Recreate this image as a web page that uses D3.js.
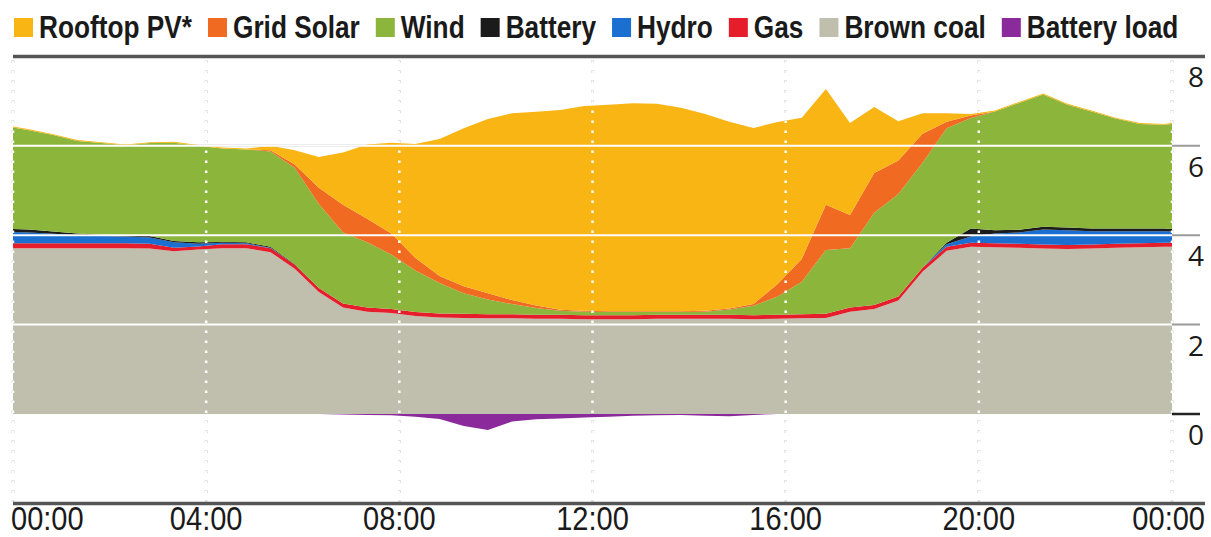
<!DOCTYPE html>
<html>
<head>
<meta charset="utf-8">
<script src="https://cdn.jsdelivr.net/npm/d3@7"></script>
<style>
  html, body { margin: 0; padding: 0; background: #fff; }
  svg { display: block; }
  .legend-text { font-family: "Liberation Sans", Arial, sans-serif; font-weight: bold; font-size: 32px; fill: #1a1a1a; }
  .x-label { font-family: "Liberation Sans", Arial, sans-serif; font-size: 33px; fill: #1a1a1a; }
  .y-label { font-family: "Open Sans", "Liberation Sans", sans-serif; font-size: 28px; fill: #1a1a1a; }
</style>
</head>
<body>
<div id="chart"></div>
<script>
// Electricity generation by source over one day (GW), stacked

const times = ["00:00","00:20","00:50","01:20","01:50","02:20","02:50","03:20","03:50","04:20",
  "04:50","05:20","05:50","06:20","06:50","07:20","07:50","08:20","08:50","09:20",
  "09:50","10:20","10:50","11:20","11:50","12:20","12:50","13:20","13:50","14:20",
  "14:50","15:20","15:50","16:20","16:50","17:20","17:50","18:20","18:50","19:20",
  "19:50","20:20","20:50","21:20","21:50","22:20","22:50","23:20","23:50","24:00"];

const brownCoal = [3.71,3.71,3.71,3.71,3.71,3.71,3.70,3.64,3.68,3.71,
  3.71,3.62,3.25,2.73,2.38,2.29,2.26,2.19,2.16,2.15,
  2.14,2.14,2.13,2.13,2.12,2.12,2.12,2.13,2.13,2.13,
  2.13,2.12,2.13,2.14,2.15,2.29,2.35,2.54,3.18,3.65,
  3.74,3.73,3.72,3.70,3.69,3.70,3.72,3.73,3.74,3.74];

const gas = [0.11,0.11,0.11,0.11,0.11,0.11,0.11,0.08,0.07,0.09,
  0.09,0.09,0.09,0.09,0.09,0.09,0.09,0.09,0.09,0.09,
  0.09,0.09,0.09,0.09,0.09,0.09,0.09,0.09,0.09,0.09,
  0.09,0.09,0.09,0.09,0.09,0.09,0.09,0.09,0.09,0.09,
  0.09,0.09,0.09,0.09,0.09,0.09,0.09,0.09,0.09,0.09];

const hydro = [0.25,0.24,0.21,0.18,0.16,0.15,0.14,0.12,0.06,0.03,
  0.02,0.01,0,0,0,0,0,0,0,0,
  0,0,0,0,0,0,0,0,0,0,
  0,0,0,0,0,0,0,0,0,0.06,
  0.14,0.22,0.25,0.34,0.33,0.30,0.28,0.27,0.26,0.25];

const battery = [0.07,0.07,0.05,0.04,0.03,0.03,0.03,0.03,0.03,0.02,
  0.02,0.02,0.01,0,0,0,0,0,0,0,
  0,0,0,0,0,0,0,0,0,0,
  0,0,0,0,0,0,0,0,0,0.03,
  0.18,0.07,0.06,0.06,0.06,0.06,0.06,0.06,0.06,0.06];

const wind = [2.27,2.22,2.16,2.07,2.05,2.01,2.08,2.20,2.16,2.09,
  2.08,2.13,2.16,1.88,1.59,1.46,1.22,0.93,0.68,0.46,
  0.33,0.23,0.15,0.09,0.08,0.07,0.07,0.06,0.06,0.07,
  0.12,0.21,0.41,0.73,1.43,1.33,2.06,2.29,2.35,2.56,
  2.47,2.66,2.84,2.96,2.75,2.62,2.46,2.34,2.32,2.35];

const gridSolar = [0,0,0,0,0,0,0,0,0,0,
  0,0.03,0.07,0.36,0.62,0.53,0.47,0.28,0.16,0.16,
  0.14,0.09,0.06,0.02,0.02,0.02,0.02,0.02,0.02,0.02,
  0.02,0.04,0.28,0.51,1.01,0.74,0.89,0.75,0.65,0.15,
  0.06,0,0,0,0,0,0,0,0,0];

const rooftopPV = [0.02,0.02,0.02,0.02,0.02,0.02,0.02,0.02,0.02,0.02,
  0.02,0.10,0.32,0.69,1.17,1.66,2.03,2.55,3.06,3.53,
  3.90,4.18,4.33,4.47,4.58,4.62,4.65,4.64,4.55,4.40,
  4.18,3.94,3.62,3.16,2.59,2.06,1.48,0.88,0.46,0.19,
  0.03,0.02,0.02,0.02,0.02,0.02,0.02,0.02,0.02,0.02];

const batteryLoad = [0,0,0,0,0,0,0,0,0,0,
  0,0,0,0,-0.01,-0.02,-0.03,-0.06,-0.11,-0.27,
  -0.36,-0.17,-0.12,-0.10,-0.08,-0.06,-0.04,-0.03,-0.02,-0.04,
  -0.05,-0.02,0,0,0,0,0,0,0,0,
  0,0,0,0,0,0,0,0,0,0];

const legendLabels = ["Rooftop PV*", "Grid Solar", "Wind", "Battery", "Hydro", "Gas", "Brown coal", "Battery load"];
const xTickHours = [0, 4, 8, 12, 16, 20, 24];
const xTickLabels = ["00:00", "04:00", "08:00", "12:00", "16:00", "20:00", "00:00"];
const yTicks = [0, 2, 4, 6, 8];

// stack order, bottom to top
const stackKeys = ["brownCoal", "gas", "hydro", "battery", "wind", "gridSolar", "rooftopPV"];
const colors = {
    rooftopPV: '#f8b514',
    gridSolar: '#f06a22',
    wind: '#8cb53c',
    battery: '#1b1b1b',
    hydro: '#1a6fd0',
    gas: '#e61e2b',
    brownCoal: '#c0beac',
    batteryLoad: '#8b2a9b'
};
const legendKeys = ["rooftopPV", "gridSolar", "wind", "battery", "hydro", "gas", "brownCoal", "batteryLoad"];

const width = 1211, height = 537;
const plot = { left: 13, right: 1172, top: 56.4, bottom: 503.4 };
const narrow = 0.82;   // squeeze for the condensed newspaper face

const toHours = s => { const p = s.split(':'); return +p[0] + (+p[1]) / 60; };

const rows = times.map((t, i) => ({
    hour: toHours(t),
    brownCoal: brownCoal[i],
    gas: gas[i],
    hydro: hydro[i],
    battery: battery[i],
    wind: wind[i],
    gridSolar: gridSolar[i],
    rooftopPV: rooftopPV[i],
    batteryLoad: batteryLoad[i]
}));

const svg = d3.select('#chart').append('svg')
    .attr('width', width)
    .attr('height', height);

const x = d3.scaleLinear().domain([0, 24]).range([plot.left, plot.right]);
const y = d3.scaleLinear().domain([-2, 8]).range([plot.bottom, plot.top]);

// Grid lines underneath (visible where there is no fill)
const under = svg.append('g');
under.selectAll('line.vgrid')
    .data(xTickHours)
    .join('line')
    .attr('x1', d => x(d)).attr('x2', d => x(d))
    .attr('y1', plot.top + 4).attr('y2', plot.bottom - 2)
    .attr('stroke', '#8a8a8a')
    .attr('stroke-width', 2.5)
    .attr('stroke-dasharray', '2.5,7.5');

under.selectAll('line.hgrid')
    .data([2, 4, 6])
    .join('line')
    .attr('x1', plot.left).attr('x2', 1200)
    .attr('y1', d => y(d)).attr('y2', d => y(d))
    .attr('stroke', '#9a9a9a')
    .attr('stroke-width', 2);

// Stacked generation areas
const series = d3.stack().keys(stackKeys)(rows);

const area = d3.area()
    .x(d => x(d.data.hour))
    .y0(d => y(d[0]))
    .y1(d => y(d[1]));

svg.append('g')
    .selectAll('path')
    .data(series)
    .join('path')
    .attr('fill', d => colors[d.key])
    .attr('d', area);

// Battery charging below zero
const loadArea = d3.area()
    .x(d => x(d.hour))
    .y0(y(0))
    .y1(d => y(d.batteryLoad));

svg.append('path')
    .datum(rows)
    .attr('fill', colors.batteryLoad)
    .attr('d', loadArea);

// White grid lines over the fills
const over = svg.append('g');
over.selectAll('line.hgrid')
    .data([2, 4, 6])
    .join('line')
    .attr('x1', plot.left).attr('x2', plot.right)
    .attr('y1', d => y(d)).attr('y2', d => y(d))
    .attr('stroke', '#fff')
    .attr('stroke-width', 2);

over.selectAll('line.vgrid')
    .data(xTickHours)
    .join('line')
    .attr('x1', d => x(d)).attr('x2', d => x(d))
    .attr('y1', plot.top + 4).attr('y2', plot.bottom - 2)
    .attr('stroke', '#fff')
    .attr('stroke-width', 2.5)
    .attr('stroke-dasharray', '2.5,7.5');

// Top and bottom rules
svg.append('line')
    .attr('x1', plot.left).attr('x2', 1205)
    .attr('y1', y(8)).attr('y2', y(8))
    .attr('stroke', '#555').attr('stroke-width', 3.5);

svg.append('line')
    .attr('x1', plot.left).attr('x2', 1205)
    .attr('y1', y(-2)).attr('y2', y(-2))
    .attr('stroke', '#555').attr('stroke-width', 3.5);

// zero tick on the right
svg.append('line')
    .attr('x1', plot.right).attr('x2', 1200)
    .attr('y1', y(0)).attr('y2', y(0))
    .attr('stroke', '#222').attr('stroke-width', 2.5);

// Y labels on the right, under their lines
svg.append('g')
    .selectAll('text')
    .data(yTicks)
    .join('text')
    .attr('class', 'y-label')
    .attr('x', 1196)
    .attr('y', d => y(d) + 31)
    .attr('text-anchor', 'middle')
    .text(d => d);

// X labels (squeezed horizontally)
const xScaleText = 0.88;
svg.append('g')
    .selectAll('text')
    .data(xTickHours)
    .join('text')
    .attr('class', 'x-label')
    .attr('transform', (d, i) => {
        const px = i === 0 ? 11 : (i === xTickHours.length - 1 ? 1205 : x(d));
        return `translate(${px},530) scale(${xScaleText},1)`;
    })
    .attr('text-anchor', (d, i) => i === 0 ? 'start' : (i === xTickHours.length - 1 ? 'end' : 'middle'))
    .text((d, i) => xTickLabels[i]);

// Legend
const legend = svg.append('g');
let lx = 14;
legendKeys.forEach((k, i) => {
    legend.append('rect')
        .attr('x', lx).attr('y', 18)
        .attr('width', 19).attr('height', 19)
        .attr('fill', colors[k]);
    const t = legend.append('text')
        .attr('class', 'legend-text')
        .attr('transform', `translate(${lx + 25},38) scale(${narrow},1)`)
        .text(legendLabels[i]);
    lx += 25 + t.node().getComputedTextLength() * narrow + 16;
});
</script>
</body>
</html>
